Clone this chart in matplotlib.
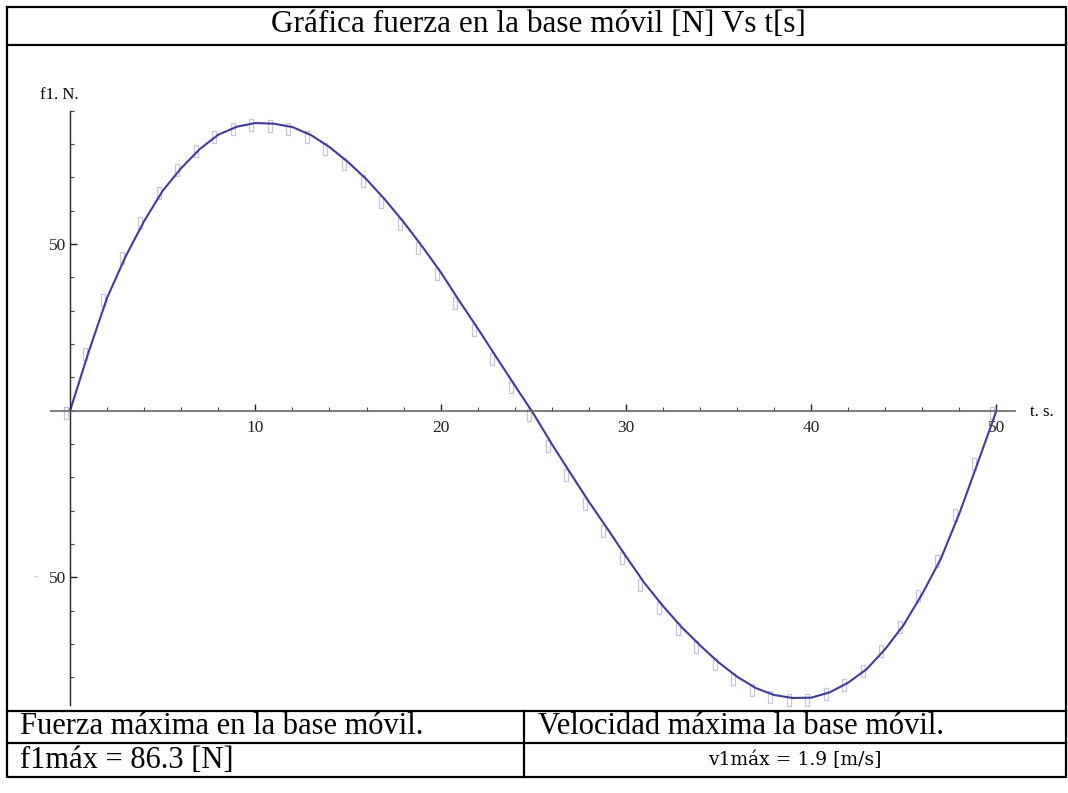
import matplotlib
matplotlib.use("Agg")
import matplotlib.pyplot as plt
from matplotlib.ticker import MultipleLocator, FixedLocator
import matplotlib.transforms as mtransforms

plt.rcParams["font.family"] = ["Liberation Serif", "DejaVu Serif"]

# data
t = list(range(0, 51))
f1 = [0.0, 17.6, 33.9, 46.3, 56.9, 66.0, 72.8, 78.5, 82.8, 85.2,
      86.3, 86.1, 85.1, 82.7, 79.1, 74.6, 69.4, 63.3, 56.6, 49.3,
      41.6, 33.0, 24.7, 16.1, 7.6, -0.8, -10.0, -18.7, -27.3, -35.4,
      -43.7, -51.7, -58.6, -64.9, -70.4, -75.5, -79.8, -83.2, -85.3, -86.2,
      -86.1, -84.5, -81.6, -77.5, -71.5, -64.2, -54.9, -44.4, -30.8, -15.5,
      0.0]
x_major = [10, 20, 30, 40, 50]
y_major = [50, -50]
y_major_labels = ["50", "50"]

title = "Gráfica fuerza en la base móvil [N] Vs t[s]"
cell_left_head = "Fuerza máxima en la base móvil."
cell_right_head = "Velocidad máxima la base móvil."
cell_left_val = "f1máx = 86.3 [N]"
cell_right_val = "v1máx = 1.9 [m/s]"

W, H = 1068, 793
fig = plt.figure(figsize=(W / 100, H / 100), dpi=100)

# frame / table drawn in pixel coordinates
bg = fig.add_axes([0, 0, 1, 1])
bg.set_xlim(0, W)
bg.set_ylim(H, 0)
bg.axis("off")
lw = 1.6
bg.plot([6.5, 1066, 1066, 6.5, 6.5], [6.5, 6.5, 777, 777, 6.5], color="black", lw=lw)
bg.plot([6.5, 1066], [44.5, 44.5], color="black", lw=lw)
bg.plot([6.5, 1066], [711, 711], color="black", lw=lw)
bg.plot([6.5, 1066], [743, 743], color="black", lw=lw)
bg.plot([524, 524], [711, 777], color="black", lw=lw)

bg.text(538, 24, title, ha="center", va="center", fontsize=22.5)
bg.text(20, 727, cell_left_head, ha="left", va="center", fontsize=22)
bg.text(538, 727, cell_right_head, ha="left", va="center", fontsize=22)
bg.text(20, 760, cell_left_val, ha="left", va="center", fontsize=22)
bg.text(795, 760, cell_right_val, ha="center", va="center", fontsize=13.5,
        family=["DejaVu Serif"])

# axis names
bg.text(40, 95, "f1. N.", ha="left", va="center", fontsize=12)
bg.text(1030, 412, "t. s.", ha="left", va="center", fontsize=12)

# plot axes
ax = fig.add_axes([51 / W, 88 / H, (1015 - 51) / W, (705 - 110.7) / H])
ax.set_xlim(-1.03, 51)
ax.set_ylim(-88.3, 90)
ax.patch.set_alpha(0)
for s in ("top", "right"):
    ax.spines[s].set_visible(False)
ax.spines["left"].set_position(("data", 0))
ax.spines["bottom"].set_position(("data", 0))
ax.spines["left"].set_color("#222222")
ax.spines["bottom"].set_color("#666666")
ax.spines["left"].set_linewidth(1.0)
ax.spines["bottom"].set_linewidth(1.2)

ax.xaxis.set_major_locator(FixedLocator(x_major))
ax.xaxis.set_minor_locator(MultipleLocator(2))
ax.yaxis.set_major_locator(FixedLocator(y_major))
ax.yaxis.set_major_formatter(plt.FixedFormatter(y_major_labels))
ax.yaxis.set_minor_locator(MultipleLocator(10))
ax.tick_params(axis="both", which="major", direction="in", length=5, width=1,
               labelsize=12.5, colors="#222222")
ax.tick_params(axis="both", which="minor", direction="in", length=3, width=0.8,
               colors="#444444")
ax.tick_params(axis="x", pad=7)
ax.tick_params(axis="y", pad=3)

# faint minus of the lower label, as in the original
ax.text(-1.75, -50, "-", ha="right", va="center", fontsize=10, color="#cccccc")

# sampled points (offset open rectangles) and curve
marker_rect = [(-0.35, -1), (0.35, -1), (0.35, 1), (-0.35, 1), (-0.35, -1)]
off = mtransforms.ScaledTranslation(-4 / 100, -2 / 100, fig.dpi_scale_trans)
ax.plot(t, f1, linestyle="none", marker=marker_rect, markersize=8,
        markerfacecolor="none", markeredgecolor="#c4c4e4", markeredgewidth=0.9,
        transform=ax.transData + off, clip_on=False)
ax.plot(t, f1, color="#3d3d99", lw=1.5, clip_on=False)

fig.savefig("out.png", dpi=100)
